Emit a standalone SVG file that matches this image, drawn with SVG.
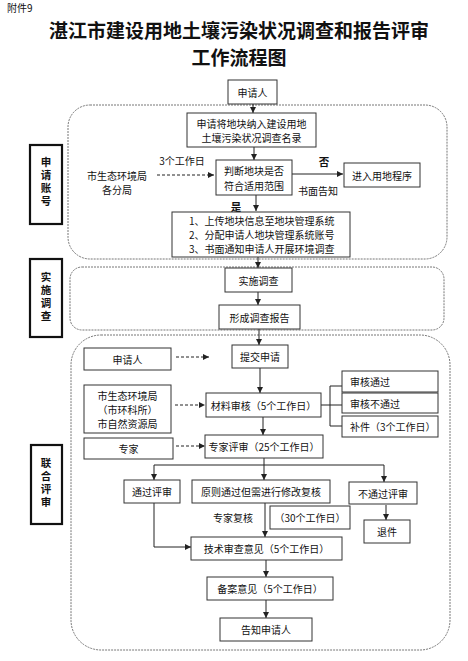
<svg xmlns="http://www.w3.org/2000/svg" width="468" height="661" viewBox="0 0 468 661">
<style>
text{font-family:"Noto Sans CJK SC","Noto Sans",sans-serif;fill:#111;}
.t{font-size:10px;text-anchor:middle;dominant-baseline:central;}
.tl{font-size:10px;text-anchor:start;dominant-baseline:central;}
.box{fill:#fff;stroke:#333;stroke-width:1;}
.lab{fill:#fff;stroke:#111;stroke-width:2.2;}
.lt{font-size:10.5px;font-weight:bold;text-anchor:middle;dominant-baseline:central;}
.vt{font-size:10.5px;font-weight:bold;text-anchor:middle;writing-mode:vertical-rl;letter-spacing:2.5px;}
.sec{fill:none;stroke:#777;stroke-width:1;stroke-dasharray:2,1;}
.c{fill:none;stroke:#222;stroke-width:1;}
.a{marker-end:url(#ah);}
.d{stroke-dasharray:3,2;}
.title{font-size:19px;font-weight:bold;text-anchor:middle;}
</style>
<defs>
<marker id="ah" viewBox="0 0 10 10" refX="10" refY="5" markerWidth="6" markerHeight="6" markerUnits="userSpaceOnUse" orient="auto">
<path d="M0,0 L10,5 L0,10 z" fill="#222"/>
</marker>
</defs>
<rect width="468" height="661" fill="#fff"/>
<g id="header">
<text x="7" y="12" style="font-size:10px">附件9</text>
<text class="title" x="239" y="38">湛江市建设用地土壤污染状况调查和报告评审</text>
<text class="title" x="239" y="65">工作流程图</text>
</g>
<g id="sections">
<rect class="sec" x="68" y="105" width="379" height="154" rx="22" ry="22"/>
<rect class="sec" x="70" y="267" width="374" height="63" rx="12" ry="12"/>
<rect class="sec" x="71" y="335" width="379" height="315" rx="30" ry="30"/>
</g>
<g id="label-apply"><rect class="lab" x="30" y="145" width="32" height="79"/>
<text class="vt" x="46" y="183">申请账号</text></g>
<g id="label-impl"><rect class="lab" x="30" y="259" width="32" height="78"/>
<text class="vt" x="46" y="298">实施调查</text></g>
<g id="label-review"><rect class="lab" x="31" y="445" width="31" height="79"/>
<text class="vt" x="46" y="484">联合评审</text></g>

<g id="connectors">
<line class="c a" x1="253" y1="104" x2="253" y2="113"/>
<line class="c a" x1="254" y1="147" x2="254" y2="160"/>
<line class="c a d" x1="157" y1="175" x2="214" y2="175"/>
<line class="c a" x1="292" y1="174" x2="343" y2="174"/>
<line class="c a" x1="256" y1="195" x2="256" y2="211"/>
<line class="c a" x1="258" y1="257" x2="258" y2="268"/>
<line class="c a" x1="258" y1="292" x2="258" y2="305"/>
<line class="c a" x1="259" y1="329" x2="259" y2="345"/>
<line class="c a d" x1="176" y1="357" x2="209" y2="357"/>
<line class="c a" x1="260" y1="368" x2="260" y2="393"/>
<line class="c a d" x1="175" y1="405" x2="205" y2="405"/>
<path class="c" d="M321,405 H342 M330,386 V426 M330,386 H342 M330,426 H342"/>
<line class="c a" x1="263" y1="417" x2="263" y2="435"/>
<line class="c a d" x1="176" y1="446" x2="205" y2="446"/>
<path class="c" d="M264,458 V465 M154,465 H384"/>
<line class="c a" x1="154" y1="465" x2="154" y2="480"/>
<line class="c a" x1="264" y1="465" x2="264" y2="480"/>
<line class="c a" x1="384" y1="465" x2="384" y2="482"/>
<line class="c a" x1="265" y1="503" x2="265" y2="537"/>
<line class="c a" x1="386" y1="505" x2="386" y2="520"/>
<path class="c a" d="M154,503 V547 H191"/>
<line class="c a" x1="266" y1="560" x2="266" y2="577"/>
<line class="c a" x1="266" y1="600" x2="266" y2="618"/>
</g>

<g id="edge-labels">
<text class="t" x="182" y="160">3个工作日</text>
<text class="t" x="117" y="175">市生态环境局</text>
<text class="t" x="117" y="189">各分局</text>
<text class="lt" x="324" y="161">否</text>
<text class="t" x="318" y="190">书面告知</text>
<text class="lt" x="236" y="206">是</text>
<text class="t" x="233" y="517">专家复核</text>
</g>

<g id="n-applicant"><rect class="box" x="228" y="80" width="49" height="24"/><text class="t" x="252.5" y="92">申请人</text></g>
<g id="n-list"><rect class="box" x="187" y="113" width="129" height="34"/>
<text class="t" x="251.5" y="123">申请将地块纳入建设用地</text><text class="t" x="251.5" y="137">土壤污染状况调查名录</text></g>
<g id="n-judge"><rect class="box" x="216" y="160" width="76" height="35"/>
<text class="t" x="254" y="170">判断地块是否</text><text class="t" x="254" y="185">符合适用范围</text></g>
<g id="n-landuse"><rect class="box" x="344" y="163" width="76" height="24"/><text class="t" x="382" y="175">进入用地程序</text></g>
<g id="n-steps"><rect class="box" x="172" y="212" width="178" height="45"/>
<text class="tl" x="189" y="220.5">1、上传地块信息至地块管理系统</text>
<text class="tl" x="189" y="234.5">2、分配申请人地块管理系统账号</text>
<text class="tl" x="189" y="248.5">3、书面通知申请人开展环境调查</text></g>
<g id="n-survey"><rect class="box" x="225" y="268" width="67" height="24"/><text class="t" x="258.5" y="280">实施调查</text></g>
<g id="n-report"><rect class="box" x="219" y="305" width="81" height="24"/><text class="t" x="259.5" y="317">形成调查报告</text></g>
<g id="n-applicant2"><rect class="box" x="84" y="348" width="87" height="22"/><text class="t" x="127.5" y="359">申请人</text></g>
<g id="n-submit"><rect class="box" x="232" y="345" width="56" height="23"/><text class="t" x="260" y="356.5">提交申请</text></g>
<g id="n-bureau"><rect class="box" x="84" y="385" width="87" height="48"/>
<text class="t" x="127.5" y="395">市生态环境局</text><text class="t" x="127.5" y="409">（市环科所）</text><text class="t" x="127.5" y="423">市自然资源局</text></g>
<g id="n-material"><rect class="box" x="206" y="393" width="115" height="24"/><text class="t" x="263.5" y="405">材料审核（5个工作日）</text></g>
<g id="n-pass"><rect class="box" x="342" y="371" width="96" height="21"/><text class="tl" x="350" y="381.5">审核通过</text></g>
<g id="n-fail"><rect class="box" x="342" y="393" width="96" height="20"/><text class="tl" x="350" y="403">审核不通过</text></g>
<g id="n-supp"><rect class="box" x="342" y="416" width="96" height="21"/><text class="tl" x="350" y="426.5">补件（3个工作日）</text></g>
<g id="n-expert"><rect class="box" x="84" y="438" width="89" height="21"/><text class="t" x="128.5" y="448.5">专家</text></g>
<g id="n-expertreview"><rect class="box" x="205" y="435" width="118" height="23"/><text class="t" x="264" y="446.5">专家评审（25个工作日）</text></g>
<g id="n-passreview"><rect class="box" x="124" y="480" width="56" height="23"/><text class="t" x="152" y="491.5">通过评审</text></g>
<g id="n-revise"><rect class="box" x="192" y="480" width="138" height="23"/><text class="t" x="261" y="491.5">原则通过但需进行修改复核</text></g>
<g id="n-notpass"><rect class="box" x="349" y="482" width="68" height="22"/><text class="t" x="383" y="493">不通过评审</text></g>
<g id="n-30days"><rect class="box" x="270" y="506" width="80" height="23"/><text class="t" x="310" y="517.5">（30个工作日）</text></g>
<g id="n-return"><rect class="box" x="364" y="520" width="46" height="23"/><text class="t" x="387" y="531.5">退件</text></g>
<g id="n-tech"><rect class="box" x="191" y="537" width="151" height="23"/><text class="t" x="266.5" y="548.5">技术审查意见（5个工作日）</text></g>
<g id="n-record"><rect class="box" x="207" y="577" width="126" height="23"/><text class="t" x="270" y="588.5">备案意见（5个工作日）</text></g>
<g id="n-notify"><rect class="box" x="220" y="618" width="92" height="23"/><text class="t" x="266" y="629.5">告知申请人</text></g>
</svg>
